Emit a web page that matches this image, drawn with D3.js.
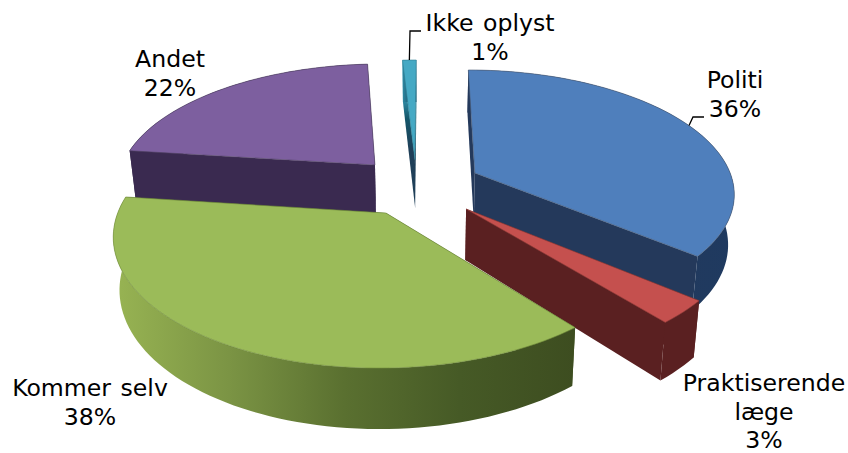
<!DOCTYPE html>
<html lang="da">
<head>
<meta charset="UTF-8">
<title>Henvisning</title>
<script src="https://d3js.org/d3.v7.min.js"></script>
<style>
    html, body { margin: 0; padding: 0; background: #fff; }
    svg { display: block; }
    text { font-family: "DejaVu Sans", Verdana, sans-serif; font-size: 23.6px; word-spacing: 2px; fill: #000; }
</style>
</head>
<body>
<svg id="chart" width="848" height="453"></svg>
<script>
    const categories = ["Politi", "Praktiserende læge", "Kommer selv", "Andet", "Ikke oplyst"];
    const values = [36, 3, 38, 22, 1];

    // how far each slice is pulled out of the pie, in pie radii (right, towards viewer)
    const explode = [[0.195, -0.017], [0.154, 0.274], [-0.1455, 0.305], [-0.198, -0.085], [-0.04, -0.13]];
    const topColors = ["#4f7fbc", "#c5504e", "#9bbb59", "#7d5f9f", "#45a9c4"];
    const cutColors = ["#24395b", "#5a2021", "#4a5c28", "#3a2a50", "url(#cutFade)"];
    const edgeColors = ["#4a5a74", "#8a3a38", "#6f8a3a", "#4d4060", "#2e7d92"];
    const wallStops = [
        ["#24395b", "#24395b", "#1f3a60"],
        ["#5a2021", "#5a2021", "#5a2021"],
        ["#98b453", "#7b9444", "#5a7030", "#465a26", "#3d4d20"],
        ["#3a2a50", "#3a2a50", "#3a2a50"],
        ["#2f8aa3", "#1d5a72", "#1d4a5e"]
    ];
    // label text lines with centre x and first baseline
    const labelLines = [
        ["Politi", "36%"],
        ["Praktiserende", "læge", "3%"],
        ["Kommer selv", "38%"],
        ["Andet", "22%"],
        ["Ikke oplyst", "1%"]
    ];
    const labelPos = [[735, 88], [764, 391], [90, 396], [170, 67], [490, 31]];
    const lineHeight = 28.5;

    // perspective view of the pie plane
    const cx = 425, cy = 175, rx = 256, ry = 119, tilt = 0.15, depth = 49, floorShrink = 0.98;

    function project(u, v, low) {
        const f = 1 / (1 - tilt * v);
        const k = low ? floorShrink : 1;
        return [cx + rx * u * f * k, cy + ry * v * f + (low ? depth * f : 0)];
    }

    function rimPoint(i, a, low) {
        return project(explode[i][0] + Math.sin(a), explode[i][1] - Math.cos(a), low);
    }

    const pie = d3.pie().sort(null).startAngle(0).endAngle(2 * Math.PI);
    const arcs = pie(values);
    const line = d3.line();
    const svg = d3.select("#chart");
    const defs = svg.append("defs");

    // the small slice fades from its cyan into dark further down its cut face
    const fade = defs.append("linearGradient")
        .attr("id", "cutFade")
        .attr("gradientUnits", "userSpaceOnUse")
        .attr("x1", 0).attr("x2", 0).attr("y1", 60).attr("y2", 150);
    [["0", "#45a9c4"], ["0.45", "#2f8aa3"], ["0.65", "#14566a"], ["1", "#1f3f58"]].forEach(([o, c]) => {
        fade.append("stop").attr("offset", o).attr("stop-color", c);
    });

    function rim(i, low) {
        const d = arcs[i];
        const n = Math.max(4, Math.ceil((d.endAngle - d.startAngle) * 30));
        return d3.range(n + 1).map(s => rimPoint(i, d.startAngle + (d.endAngle - d.startAngle) * s / n, low));
    }

    // back slices first so nearer ones cover them
    [4, 3, 0, 1, 2].forEach(i => {
        const d = arcs[i];
        const g = svg.append("g").attr("class", "slice");
        const apexTop = project(explode[i][0], explode[i][1], false);
        const apexLow = project(explode[i][0], explode[i][1], true);
        const top = rim(i, false);
        const low = rim(i, true);

        const grad = defs.append("linearGradient")
            .attr("id", "wall" + i)
            .attr("gradientUnits", "userSpaceOnUse")
            .attr("x1", d3.min(top, p => p[0])).attr("x2", d3.max(top, p => p[0]))
            .attr("y1", 0).attr("y2", 0);
        wallStops[i].forEach((c, s) => {
            grad.append("stop").attr("offset", s / (wallStops[i].length - 1)).attr("stop-color", c);
        });

        // the two cut faces
        [d.startAngle, d.endAngle].forEach(a => {
            g.append("path")
                .attr("d", line([apexTop, rimPoint(i, a, false), rimPoint(i, a, true), apexLow]) + "Z")
                .attr("fill", cutColors[i]);
        });
        // outer wall
        g.append("path")
            .attr("d", line(top.concat(low.slice().reverse())) + "Z")
            .attr("fill", `url(#wall${i})`);
        // top face
        g.append("path")
            .attr("d", line([apexTop].concat(top)) + "Z")
            .attr("fill", topColors[i])
            .attr("stroke", edgeColors[i])
            .attr("stroke-width", 0.6)
            .attr("stroke-linejoin", "round");
    });

    // leader lines start at the middle of the slice rim
    const leaders = [[0, [[693, 117], [704, 117]]], [4, [[410, 31], [421, 31]]]];
    leaders.forEach(([i, rest]) => {
        const mid = (arcs[i].startAngle + arcs[i].endAngle) / 2;
        svg.append("path")
            .attr("d", line([rimPoint(i, mid, false)].concat(rest)))
            .attr("fill", "none")
            .attr("stroke", "#000")
            .attr("stroke-width", 1.3);
    });

    labelLines.forEach((lines, i) => {
        const t = svg.append("text").attr("text-anchor", "middle");
        lines.forEach((s, j) => {
            t.append("tspan")
                .attr("x", labelPos[i][0])
                .attr("y", labelPos[i][1] + j * lineHeight)
                .text(s);
        });
    });
</script>
</body>
</html>
